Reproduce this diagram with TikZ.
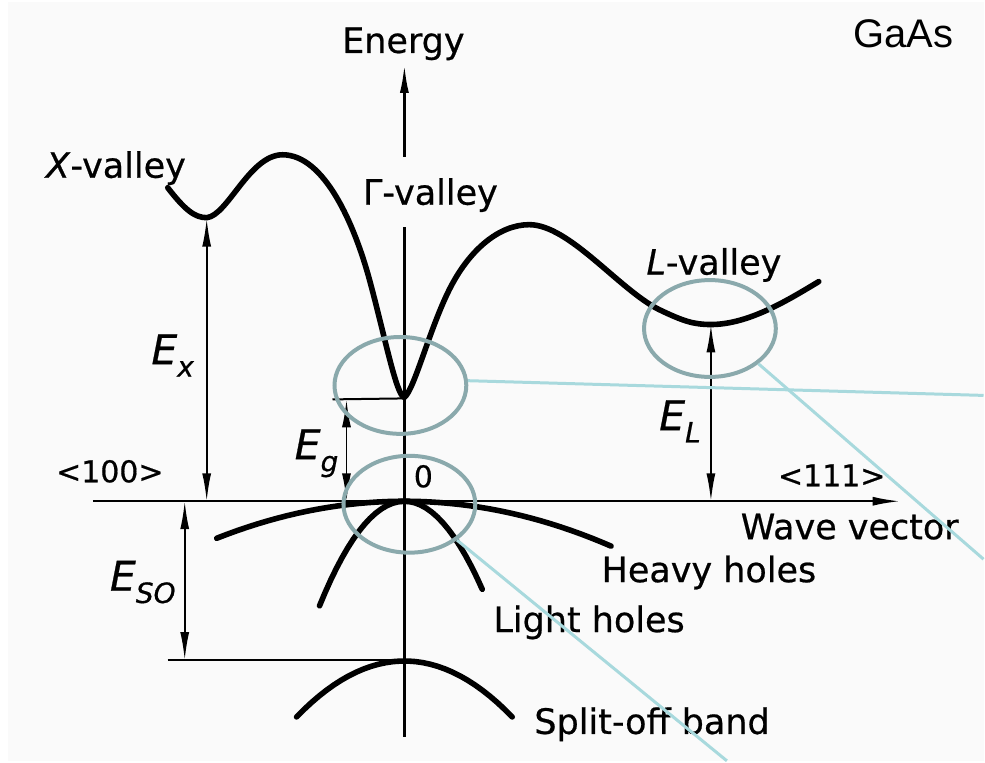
\documentclass[tikz,border=0pt]{standalone}
\usepackage{fontspec}
\setmainfont{DejaVu Sans}[FakeBold=0.6]
\newfontfamily\gaasfont{Liberation Sans}
\usepackage{tikz}
\usetikzlibrary{shapes,arrows.meta,positioning}

\definecolor{bgcol}{HTML}{FAFAFA}
\definecolor{ringcol}{HTML}{8AA9AC}
\definecolor{leadcol}{HTML}{A8D9DD}
\newcommand{\elab}[1]{\textit{E}\raisebox{-0.3em}{\fontsize{28}{28}\selectfont\textit{#1}}}

\begin{document}
\begin{tikzpicture}[x=1pt, y=-1pt,
    >={Latex[length=28pt,width=9pt]},
    txt/.style={font=\fontsize{35}{40}\selectfont, inner sep=0pt, anchor=base},
    dir/.style={txt, font=\fontsize{30}{34}\selectfont},
    sym/.style={font=\fontsize{41}{44}\selectfont, inner sep=0pt},
    axis/.style={line width=2.4pt},
    band/.style={line width=5.6pt, line cap=round, line join=round},
    dim/.style={<->, line width=1.8pt},
    ref/.style={line width=2pt},
    ring/.style={draw=ringcol, ellipse, line width=4pt, minimum width=132pt, minimum height=97pt, inner sep=0pt},
    lead/.style={draw=leadcol, line width=3pt}
]
\fill[white] (0,0) rectangle (985,762);
\fill[bgcol] (8,2) rectangle (985,762);

% axes
\coordinate (O) at (405,502);
\coordinate (axL) at (93,502);
\coordinate (axR) at (902,502);
\coordinate (axB) at (405,738);
\coordinate (gapB) at (405,227);
\coordinate (gapT) at (405,157);
\coordinate (axT) at (405,65);
\draw[axis,->] (axL) -- (axR);
\draw[axis] (axB) -- (gapB);
\draw[axis,->] (gapT) -- (axT);

% conduction band
\draw[band] (168,188) .. controls (185,210) and (195,218) .. (207,218)
    .. controls (228,216) and (250,155) .. (283,155)
    .. controls (325,155) and (355,225) .. (370,280)
    .. controls (385,335) and (397,397) .. (405,398)
    .. controls (415,390) and (430,330) .. (450,290)
    .. controls (470,250) and (500,225) .. (530,225)
    .. controls (570,225) and (620,290) .. (660,310)
    .. controls (685,322) and (695,325) .. (712,325)
    .. controls (750,325) and (790,300) .. (820,282);

% valence bands
\draw[band] plot[domain=-188:207, samples=40] ({405+\x},{502+(0.0324*\x)*(0.0324*\x)});
\draw[band] plot[domain=-85:78, samples=30] ({405+\x},{502+(0.1204*\x)*(0.1204*\x)});
\draw[band] plot[domain=-108:108, samples=30] ({405+\x},{662+(0.0693*\x)*(0.0693*\x)});

% energy gaps
\coordinate (Xmin) at (207,219);
\coordinate (Xax) at (207,502);
\coordinate (Gmin) at (405,399);
\coordinate (Gref) at (333,400);
\coordinate (Gtop) at (347,400);
\coordinate (Gax) at (347,502);
\coordinate (Lmin) at (712,325);
\coordinate (Lax) at (712,502);
\coordinate (SOtop) at (185,502);
\coordinate (SObot) at (185,661);
\coordinate (SOref) at (168,661);
\coordinate (SOmax) at (405,661);
\draw[dim] (Xax) -- (Xmin);
\draw[ref] (Gref) -- (Gmin);
\draw[dim] (Gax) -- (Gtop);
\draw[dim] (Lax) -- (Lmin);
\draw[ref] (SOref) -- (SOmax);
\draw[dim] (SOtop) -- (SObot);

% labels
\node[txt] (energy) at (404,53) {Energy};
\node[txt] (xval) at (116,178) {\textit{X}-valley};
\node[txt] (gval) at (431,205) {Γ-valley};
\node[txt] (lval) at (715,275) {\textit{L}-valley};
\node[dir] (dir100) at (110,483) {<100>};
\node[dir] (zero) at (424,488) {0};
\node[dir] (dir111) at (833,487) {<111>};
\node[txt] (wave) at (851,540) {Wave vector};
\node[txt] (heavy) at (710,583) {Heavy holes};
\node[txt] (light) at (590,633) {Light holes};
\node[txt] (split) at (653,735) {Split-off band};
\node[sym] (ex) at (173,356) {\elab{x}};
\node[sym] (eg) at (317,454) {\elab{g}};
\node[sym] (el) at (681,422) {\elab{L}};
\node[sym] (eso) at (143,583) {\elab{SO}};
\node[font=\gaasfont\fontsize{40}{44}\selectfont, anchor=base, inner sep=0pt] (title) at (905,48) {GaAs};

% highlight rings
\node[ring] (ringG) at (401,386) {};
\node[ring] (ringO) at (410,505) {};
\node[ring] (ringL) at (711,329) {};
\coordinate (endG) at (985,396);
\coordinate (endL) at (985,560);
\coordinate (endO) at (728,762);
\draw[lead] (ringG.4) -- (endG);
\draw[lead] (ringL.-36) -- (endL);
\draw[lead] (ringO.-37) -- (endO);
\end{tikzpicture}
\end{document}
